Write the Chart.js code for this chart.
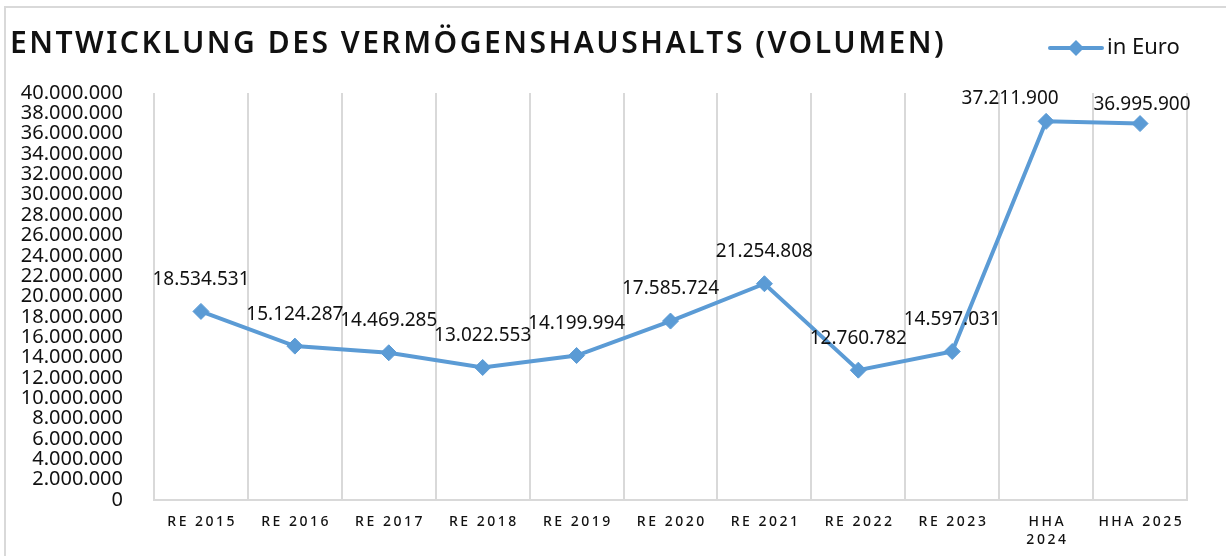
<!DOCTYPE html>
<html lang="de">
<head>
<meta charset="utf-8">
<title>Entwicklung des Vermögenshaushalts</title>
<script src="https://cdn.jsdelivr.net/npm/chart.js@4.4.1/dist/chart.umd.min.js"></script>
<style>
  html, body { margin: 0; padding: 0; background: #fff; }
  #wrap { position: relative; width: 1226px; height: 556px; }
</style>
</head>
<body>
<div id="wrap"><canvas id="vhChart"></canvas></div>
<script>
/* Vermögenshaushalt - Volumen je Jahr (Line chart) */
const jahre = ['RE 2015', 'RE 2016', 'RE 2017', 'RE 2018', 'RE 2019', 'RE 2020',
               'RE 2021', 'RE 2022', 'RE 2023', ['HHA', '2024'], 'HHA 2025'];
const volumen = [18534531, 15124287, 14469285, 13022553, 14199994, 17585724,
                 21254808, 12760782, 14597031, 37211900, 36995900];
const yMin = 0;
const yMax = 40000000;
const yStep = 2000000;
const titel = 'ENTWICKLUNG DES VERMÖGENSHAUSHALTS (VOLUMEN)';
const serienName = 'in Euro';

const BLAU = '#5B9BD5';
const GRAU = '#d9d9d9';
const TEXT = '#111111';
const FONT = '"Noto Sans", "Open Sans", sans-serif';

// labels sit 32px above their point; a few are moved so they don't collide
const LABEL_ABSTAND = 32;
const labelVersatz = { 9: [-36, 9], 10: [2, 13] };

// 1234567 -> 1.234.567
const punkt = (n) => String(Math.round(n)).replace(/\B(?=(\d{3})+(?!\d))/g, '.');

// frame, title and legend
const rahmen = {
    id: 'rahmen',
    beforeDraw(chart) {
        const c = chart.ctx;
        c.save();
        c.strokeStyle = GRAU;
        c.lineWidth = 2;
        c.strokeRect(5, 7, 1240, 600);

        c.fillStyle = TEXT;
        c.font = '600 30px ' + FONT;
        c.letterSpacing = '2.5px';
        c.textBaseline = 'middle';
        c.textAlign = 'left';
        c.fillText(titel, 10, 44);
        c.letterSpacing = '0px';

        // legend: line with diamond
        const ly = 48;
        c.strokeStyle = BLAU;
        c.lineWidth = 4;
        c.lineCap = 'round';
        c.beginPath();
        c.moveTo(1050, ly);
        c.lineTo(1102, ly);
        c.stroke();
        c.fillStyle = BLAU;
        c.beginPath();
        c.moveTo(1076 - 8, ly);
        c.lineTo(1076, ly - 8);
        c.lineTo(1076 + 8, ly);
        c.lineTo(1076, ly + 8);
        c.closePath();
        c.fill();
        c.fillStyle = TEXT;
        c.font = '22px ' + FONT;
        c.fillText(serienName, 1107, ly);
        c.restore();

        // spaced x labels
        const sx = chart.scales.x;
        if (!sx._gesperrt) {
            const orig = sx.drawLabels.bind(sx);
            sx.drawLabels = (area) => {
                c.save();
                c.letterSpacing = '2.5px';
                c.translate(1.25, 0);
                orig(area);
                c.restore();
            };
            sx._gesperrt = true;
        }
    }
};

// values above each point
const werte = {
    id: 'werte',
    afterDatasetsDraw(chart) {
        const c = chart.ctx;
        const meta = chart.getDatasetMeta(0);
        c.save();
        c.fillStyle = TEXT;
        c.font = '19px ' + FONT;
        c.textAlign = 'center';
        c.textBaseline = 'middle';
        meta.data.forEach((pt, i) => {
            const [dx, dy] = labelVersatz[i] || [0, 0];
            c.fillText(punkt(volumen[i]), pt.x + dx, pt.y - LABEL_ABSTAND + dy);
        });
        c.restore();
    }
};

new Chart(document.getElementById('vhChart'), {
    type: 'line',
    data: {
        labels: jahre,
        datasets: [{
            label: serienName,
            data: volumen,
            borderColor: BLAU,
            backgroundColor: BLAU,
            borderWidth: 4,
            tension: 0,
            pointStyle: 'rectRot',
            pointRadius: 8,
            pointHoverRadius: 8,
            pointBorderWidth: 1,
            pointBorderColor: BLAU,
            pointBackgroundColor: BLAU
        }]
    },
    options: {
        responsive: true,
        maintainAspectRatio: false,
        animation: false,
        layout: { padding: { top: 93, right: 39, bottom: 0, left: 0 } },
        plugins: {
            legend: { display: false },
            title: { display: false },
            tooltip: { enabled: false }
        },
        scales: {
            x: {
                offset: true,
                grid: { offset: true, color: GRAU, lineWidth: 2, drawTicks: false },
                border: { color: GRAU, width: 2 },
                ticks: {
                    color: TEXT,
                    font: { family: FONT, size: 14, weight: '500', lineHeight: 1.3 },
                    padding: 13,
                    maxRotation: 0,
                    autoSkip: false
                },
                afterFit(scale) { scale.height = 56; }
            },
            y: {
                min: yMin,
                max: yMax,
                grid: { display: false, drawTicks: false },
                border: { display: false },
                ticks: {
                    stepSize: yStep,
                    autoSkip: false,
                    padding: 31,
                    color: TEXT,
                    font: { family: FONT, size: 20, lineHeight: 1 },
                    callback: (v) => punkt(v)
                },
                afterFit(scale) { scale.width = 154; }
            }
        }
    },
    plugins: [rahmen, werte]
});
</script>
</body>
</html>
